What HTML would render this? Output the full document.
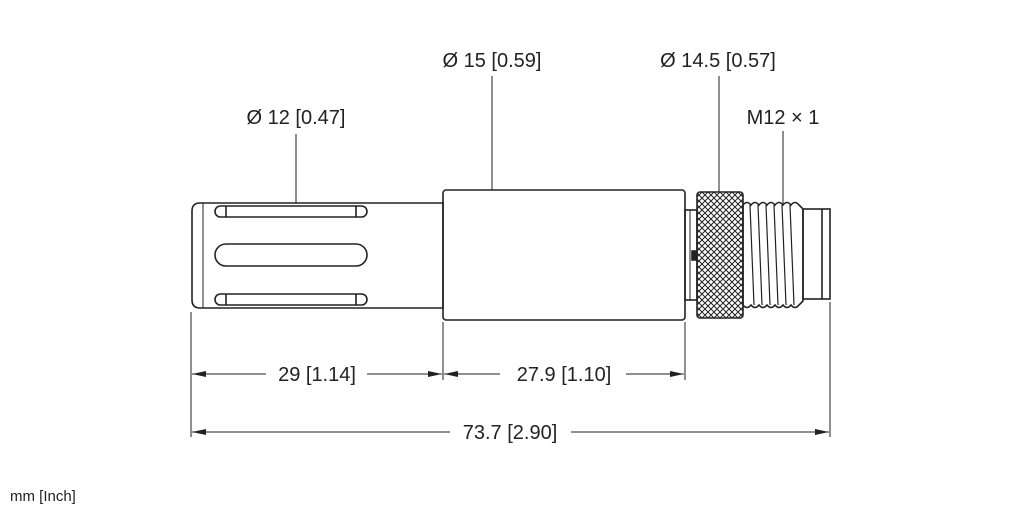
<!DOCTYPE html>
<html><head><meta charset="utf-8"><style>
html,body{margin:0;padding:0;background:#fff;}
svg{display:block;}
text{font-family:"Liberation Sans",sans-serif;fill:#222;}
</style></head><body>
<svg width="1022" height="511" viewBox="0 0 1022 511" xmlns="http://www.w3.org/2000/svg">
<defs>
<pattern id="kn" width="6" height="6" patternUnits="userSpaceOnUse">
<path d="M0 0L6 6M6 0L0 6" stroke="#222" stroke-width="1"/>
</pattern>
<marker id="ar" markerWidth="14" markerHeight="6" refX="14" refY="3" orient="auto" markerUnits="userSpaceOnUse">
<path d="M0 0L14 3L0 6z" fill="#222"/>
</marker>
</defs>
<g stroke="#222" fill="none" stroke-width="1.6">
<path d="M200 203H443V308H200Q192 308 192 300V211Q192 203 200 203Z"/>
<line x1="203" y1="203" x2="203" y2="308" stroke-width="1"/>
<rect x="215" y="206" width="152" height="11" rx="5.5"/>
<line x1="226" y1="206" x2="226" y2="217"/><line x1="356" y1="206" x2="356" y2="217"/>
<rect x="215" y="244" width="152" height="22" rx="11"/>
<rect x="215" y="294" width="152" height="11" rx="5.5"/>
<line x1="226" y1="294" x2="226" y2="305"/><line x1="356" y1="294" x2="356" y2="305"/>
<rect x="443" y="190" width="242" height="130" rx="3"/>
<rect x="685" y="210" width="12" height="90"/>
<line x1="690" y1="210" x2="690" y2="300" stroke-width="1"/>
<rect x="692" y="251" width="4" height="9" fill="#222"/>
<rect x="697" y="192" width="46" height="126" rx="3" fill="url(#kn)"/>
<path d="M743 205 q4 -5 8 0 q4 -5 8 0 q4 -5 8 0 q4 -5 8 0 q4 -5 8 0 q4 -5 8 0 q4 -5 8 0 L803 209 L803 301 L799 305 q-4 5 -8 0 q-4 5 -8 0 q-4 5 -8 0 q-4 5 -8 0 q-4 5 -8 0 q-4 5 -8 0 q-4 5 -8 0 Z"/>
<line x1="750" y1="205" x2="754" y2="305" stroke-width="1.2"/>
<line x1="758" y1="205" x2="762" y2="305" stroke-width="1.2"/>
<line x1="766" y1="205" x2="770" y2="305" stroke-width="1.2"/>
<line x1="774" y1="205" x2="778" y2="305" stroke-width="1.2"/>
<line x1="782" y1="205" x2="786" y2="305" stroke-width="1.2"/>
<line x1="790" y1="205" x2="794" y2="305" stroke-width="1.2"/>
<rect x="803" y="209" width="27" height="90"/>
<line x1="822" y1="209" x2="822" y2="299"/>
</g>
<g stroke="#222" stroke-width="1" fill="none">
<line x1="296" y1="134" x2="296" y2="203"/>
<line x1="492" y1="76" x2="492" y2="190"/>
<line x1="719" y1="76" x2="719" y2="192"/>
<line x1="783" y1="131" x2="783" y2="205"/>
<line x1="191" y1="312" x2="191" y2="437"/>
<line x1="443" y1="322" x2="443" y2="380"/>
<line x1="685" y1="322" x2="685" y2="380"/>
<line x1="830" y1="302" x2="830" y2="437"/>
<line x1="266" y1="374" x2="192" y2="374" marker-end="url(#ar)"/>
<line x1="367" y1="374" x2="442" y2="374" marker-end="url(#ar)"/>
<line x1="500" y1="374" x2="444" y2="374" marker-end="url(#ar)"/>
<line x1="626" y1="374" x2="684" y2="374" marker-end="url(#ar)"/>
<line x1="450" y1="432" x2="192" y2="432" marker-end="url(#ar)"/>
<line x1="571" y1="432" x2="829" y2="432" marker-end="url(#ar)"/>
</g>
<g font-size="20" text-anchor="middle">
<text x="296" y="124">Ø 12 [0.47]</text>
<text x="492" y="67">Ø 15 [0.59]</text>
<text x="718" y="67">Ø 14.5 [0.57]</text>
<text x="783" y="124">M12 × 1</text>
<text x="317" y="381">29 [1.14]</text>
<text x="564" y="381">27.9 [1.10]</text>
<text x="510" y="439">73.7 [2.90]</text>
</g>
<text x="10" y="501" font-size="15">mm [Inch]</text>
</svg>
</body></html>
